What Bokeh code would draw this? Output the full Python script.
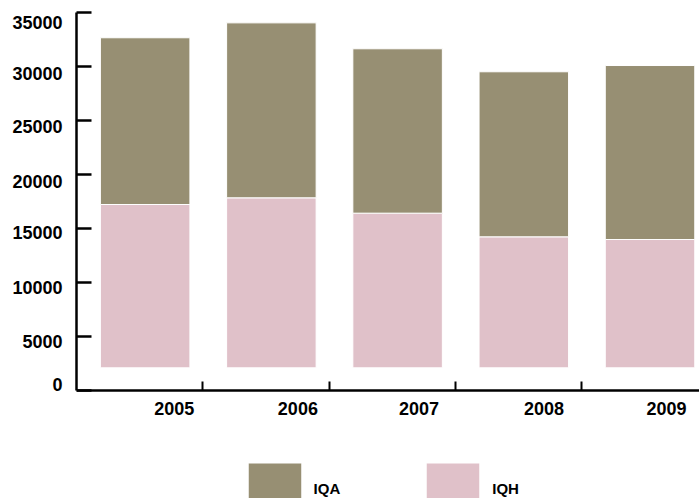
from bokeh.plotting import figure
from bokeh.models import FixedTicker, Range1d, Legend, LegendItem
from bokeh.embed import file_html
from bokeh.resources import INLINE

# ---- data ----
years = ["2005", "2006", "2007", "2008", "2009"]
iqh = [15120, 15740, 14320, 12130, 11880]     # pink segment
iqa = [15440, 16200, 15220, 15280, 16110]     # khaki segment
base_value = 2100                              # bars start slightly above zero
y_ticks = [0, 5000, 10000, 15000, 20000, 25000, 30000, 35000]
legend_labels = ["IQA", "IQH"]

# ---- style ----
KHAKI = "#978F73"
PINK = "#E0C1C9"
FONT = "Liberation Sans"
slot = 100                    # x units per category
px_per_unit_y = 378 / 35000.0
px_per_unit_x = 126.2 / slot
# label offsets in pixels (labels in the reference are not centred on their ticks)
y_label_shift_px = [-6, 5, 5, 4, 7, 6, 7, 9.7]
x_label_shift_px = [29.5, 26.7, 21.7, 20.4, 16.0]
boundary_frac = 0.457
space_below_px = 108          # room under the x axis for labels and legend

xs = [i * slot for i in range(len(years))]
iqh_top = [base_value + h for h in iqh]
iqa_top = [t + a for t, a in zip(iqh_top, iqa)]
y_top = y_ticks[-1]

p = figure(width=699, height=498,
           x_range=Range1d(-0.544 * slot, 4.392 * slot),
           y_range=Range1d(-space_below_px / px_per_unit_y, y_top),
           output_backend="svg", toolbar_location=None,
           min_border_left=76, min_border_top=12, min_border_right=0, min_border_bottom=0)
p.xgrid.visible = False
p.ygrid.visible = False
p.outline_line_color = None
p.background_fill_color = "white"

bar_w = 89.5 / px_per_unit_x
r_iqh = p.vbar(x=xs, bottom=base_value, top=iqh_top, width=bar_w,
               fill_color=PINK, line_color="white", line_width=1)
r_iqa = p.vbar(x=xs, bottom=iqh_top, top=iqa_top, width=bar_w,
               fill_color=KHAKI, line_color="white", line_width=1)

# y axis: real ticks as minor ticks, labels as (invisible) major ticks
y_label_pos = [int(round(t - s / px_per_unit_y)) for t, s in zip(y_ticks, y_label_shift_px)]
yax = p.yaxis[0]
yax.bounds = (0, y_top)
yax.ticker = FixedTicker(ticks=y_label_pos, minor_ticks=y_ticks)
yax.major_label_overrides = {pos: str(t) for pos, t in zip(y_label_pos, y_ticks)}
yax.major_tick_line_color = None
yax.major_tick_in = 0
yax.major_tick_out = 0
yax.minor_tick_in = 15
yax.minor_tick_out = 0
yax.minor_tick_line_width = 2.5
yax.minor_tick_line_color = "black"
yax.axis_line_width = 2.5
yax.axis_line_color = "black"
yax.major_label_standoff = 14
yax.major_label_text_font = FONT
yax.major_label_text_font_style = "bold"
yax.major_label_text_font_size = "18px"
yax.major_label_text_color = "black"

# x axis drawn at y = 0 inside the frame
x_label_pos = [int(round(x + s / px_per_unit_x)) for x, s in zip(xs, x_label_shift_px)]
x_bounds = [x + boundary_frac * slot for x in xs[:-1]]
xax = p.xaxis[0]
xax.fixed_location = 0
xax.ticker = FixedTicker(ticks=x_label_pos, minor_ticks=x_bounds)
xax.major_label_overrides = {pos: y for pos, y in zip(x_label_pos, years)}
xax.major_tick_line_color = None
xax.major_tick_in = 0
xax.major_tick_out = 0
xax.minor_tick_in = 9
xax.minor_tick_out = 0
xax.minor_tick_line_width = 2
xax.minor_tick_line_color = "black"
xax.axis_line_width = 2.5
xax.axis_line_color = "black"
xax.major_label_standoff = 11
xax.major_label_text_font = FONT
xax.major_label_text_font_style = "bold"
xax.major_label_text_font_size = "18px"
xax.major_label_text_color = "black"

# legend (area legend glyphs are drawn inset by 10% of the glyph box)
legend = Legend(items=[LegendItem(label=legend_labels[0], renderers=[r_iqa]),
                       LegendItem(label=legend_labels[1], renderers=[r_iqh])],
                orientation="horizontal", location=(164.6, -22.5),
                glyph_width=67, glyph_height=65, label_standoff=6, spacing=79,
                padding=0, margin=0, border_line_color=None, background_fill_alpha=0,
                label_text_font=FONT, label_text_font_style="bold",
                label_text_font_size="15px", label_text_color="black")
p.add_layout(legend)

open("out.html", "w").write(file_html(p, INLINE))
